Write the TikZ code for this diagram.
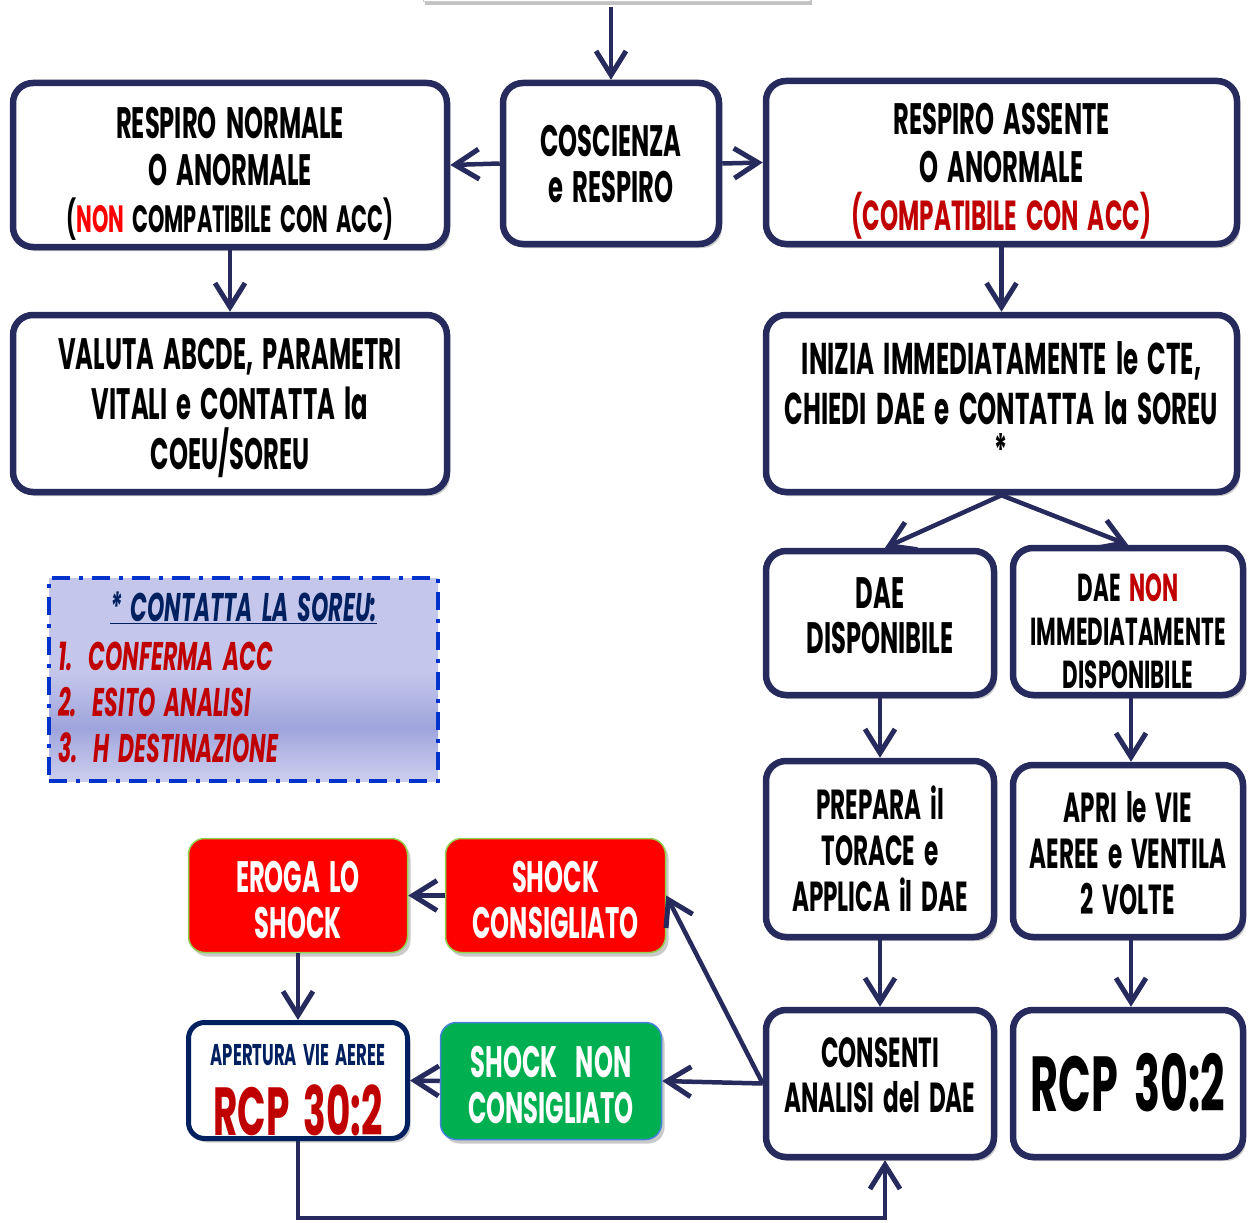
\documentclass[tikz,border=0pt]{standalone}
\usepackage{fontspec}
\usetikzlibrary{arrows.meta,shadows}
\newfontfamily\gf[FakeStretch=0.55,WordSpace=1.8]{Poppins}
\definecolor{navy}{RGB}{38,42,92}
\definecolor{dred}{RGB}{192,0,0}
\definecolor{bred}{RGB}{255,0,0}
\definecolor{ngreen}{RGB}{0,176,80}
\definecolor{lgreen}{RGB}{146,208,80}
\definecolor{gblue}{RGB}{70,130,220}
\definecolor{dnavy}{RGB}{0,32,96}
\definecolor{legT}{RGB}{196,199,235}
\definecolor{legM}{RGB}{178,182,228}
\definecolor{legD}{RGB}{158,164,220}
\definecolor{legL}{RGB}{204,206,238}
\definecolor{legblue}{RGB}{0,51,204}
\pgfdeclareverticalshading{legshade}{100bp}{color(0bp)=(legL); color(25bp)=(legL); color(33bp)=(legM); color(38bp)=(legD); color(45bp)=(legM); color(52bp)=(legT); color(100bp)=(legT)}
\tikzset{
  box/.style={draw=navy, line width=6.5pt, rounded corners=20pt, fill=white,
    drop shadow={shadow xshift=3pt, shadow yshift=-4pt, opacity=0.35, fill=black!60}},
  redbox/.style={draw=lgreen, line width=1.5pt, rounded corners=16pt, fill=bred,
    drop shadow={shadow xshift=3pt, shadow yshift=-4pt, opacity=0.35, fill=black!60}},
  greenbox/.style={draw=gblue, line width=1.5pt, rounded corners=16pt, fill=ngreen,
    drop shadow={shadow xshift=3pt, shadow yshift=-4pt, opacity=0.35, fill=black!60}},
  navybox/.style={draw=dnavy, line width=5pt, rounded corners=16pt, fill=white,
    drop shadow={shadow xshift=3pt, shadow yshift=-4pt, opacity=0.35, fill=black!60}},
  txt/.style={align=center, inner sep=0pt, font=\gf\bfseries},
  arr/.style={draw=navy, line width=4.5pt, -{Straight Barb[length=24pt,width=30pt,line width=5pt]}},
  conn/.style={draw=navy, line width=4.5pt},
}
\begin{document}
\begin{tikzpicture}[x=1pt,y=-1pt]
\useasboundingbox (0,0) rectangle (1248,1223);
% top partial box
\node[draw=gray!40, line width=1pt, fill=white, minimum width=387pt, minimum height=62pt, inner sep=0pt,
  drop shadow={shadow xshift=2pt, shadow yshift=-3pt, opacity=0.4, fill=black!60}] (top) at (616.5,-29) {};
% boxes
\node[box, minimum width=434pt, minimum height=164pt] (A) at (230,165) {};
\node[box, minimum width=216pt, minimum height=161pt] (B) at (611,163.5) {};
\node[box, minimum width=471pt, minimum height=163pt] (C) at (1001.5,162.5) {};
\node[box, minimum width=434pt, minimum height=177pt] (D) at (230,403.5) {};
\node[box, minimum width=471pt, minimum height=177pt] (E) at (1001.5,403.5) {};
\node[box, minimum width=228pt, minimum height=144pt] (F) at (880,623) {};
\node[box, minimum width=230pt, minimum height=147pt] (G) at (1128,621.5) {};
\node[box, minimum width=228pt, minimum height=176pt] (H) at (880,849) {};
\node[box, minimum width=230pt, minimum height=172pt] (I) at (1128,851) {};
\node[box, minimum width=228pt, minimum height=147pt] (J) at (880,1083.5) {};
\node[box, minimum width=230pt, minimum height=147pt] (K) at (1128,1083.5) {};
\node[redbox, minimum width=219pt, minimum height=114pt] (L) at (298,895.5) {};
\node[redbox, minimum width=220pt, minimum height=114pt] (M) at (555.5,895.5) {};
\node[navybox, minimum width=219pt, minimum height=116pt] (N) at (298,1080.5) {};
\node[greenbox, minimum width=221pt, minimum height=117pt] (O) at (551,1081) {};
\node[draw=legblue, line width=4pt, dash pattern=on 18pt off 9pt on 4pt off 9pt, shading=legshade,
  minimum width=389pt, minimum height=203pt, inner sep=0pt] (leg) at (243.5,679.5) {};
% texts
\node[txt, font=\gf\bfseries\fontsize{44}{47}\selectfont] (At) at (230,174)
  {RESPIRO NORMALE\\O ANORMALE\\{\fontsize{38}{47}\selectfont(\textcolor{bred}{NON} COMPATIBILE CON ACC)}};
\node[txt, font=\gf\bfseries\fontsize{44}{46}\selectfont] (Bt) at (611,164) {COSCIENZA\\e RESPIRO};
\node[txt, font=\gf\bfseries\fontsize{44}{48}\selectfont] (Ct) at (1001.5,171.5)
  {RESPIRO ASSENTE\\O ANORMALE\\{\color{dred}\fontsize{42}{48}\selectfont(COMPATIBILE CON ACC)}};
\node[txt, font=\gf\bfseries\fontsize{44}{50}\selectfont] (Dt) at (230,408)
  {VALUTA ABCDE, PARAMETRI\\VITALI e CONTATTA la\\COEU/SOREU};
\node[txt, font=\gf\bfseries\fontsize{44.5}{50}\selectfont] (Et) at (1001.5,404)
  {INIZIA IMMEDIATAMENTE le CTE,\\CHIEDI DAE e CONTATTA la SOREU\\[-8pt]*};
\node[txt, font=\gf\bfseries\fontsize{44}{45}\selectfont] (Ft) at (880,615.5) {DAE\\DISPONIBILE};
\node[txt, font=\gf\bfseries\fontsize{39}{43.5}\selectfont] (Gt) at (1128,631.5)
  {DAE \textcolor{dred}{NON}\\IMMEDIATAMENTE\\DISPONIBILE};
\node[txt, font=\gf\bfseries\fontsize{42}{46}\selectfont] (Ht) at (880,849) {PREPARA il\\TORACE e\\APPLICA il DAE};
\node[txt, font=\gf\bfseries\fontsize{42}{46}\selectfont] (It) at (1128,853) {APRI le VIE\\AEREE e VENTILA\\2 VOLTE};
\node[txt, font=\gf\bfseries\fontsize{42}{45}\selectfont] (Jt) at (880,1075.5) {CONSENTI\\ANALISI del DAE};
\node[txt, font=\gf\bfseries\fontsize{78}{78}\selectfont] (Kt) at (1128,1083) {RCP 30:2};
\node[txt, text=white, font=\gf\bfseries\fontsize{44}{46}\selectfont] (Lt) at (298,900) {EROGA LO\\SHOCK};
\node[txt, text=white, font=\gf\bfseries\fontsize{44}{46}\selectfont] (Mt) at (555.5,900) {SHOCK\\CONSIGLIATO};
\node[txt, text=dnavy, font=\gf\bfseries\fontsize{30}{30}\selectfont] (Nt1) at (298,1055) {APERTURA VIE AEREE};
\node[txt, text=dred, font=\gf\bfseries\fontsize{68}{68}\selectfont] (Nt2) at (298,1110) {RCP 30:2};
\node[txt, text=white, font=\gf\bfseries\fontsize{44}{46}\selectfont] (Ot) at (551,1085) {SHOCK\ \ NON\\CONSIGLIATO};
\node[txt, text=dnavy, font=\gf\bfseries\itshape\fontsize{40}{40}\selectfont] (legt) at (243.5,608)
  {\underline{* CONTATTA LA SOREU:}};
\node[txt, text=dred, anchor=west, font=\gf\bfseries\itshape\fontsize{40}{40}\selectfont] (leg1) at (58,656) {1.\hspace{16pt}CONFERMA ACC};
\node[txt, text=dred, anchor=west, font=\gf\bfseries\itshape\fontsize{40}{40}\selectfont] (leg2) at (58,702) {2.\hspace{16pt}ESITO ANALISI};
\node[txt, text=dred, anchor=west, font=\gf\bfseries\itshape\fontsize{40}{40}\selectfont] (leg3) at (58,748) {3.\hspace{16pt}H DESTINAZIONE};
% connectors
\draw[arr] (B.north |- top.south) ++(0,5) -- (B.north);
\draw[arr] (B.west) -- (A.east);
\draw[arr] (B.east) -- (C.west);
\draw[arr] (A.south) -- (D.north);
\draw[arr] (C.south) -- (E.north);
\draw[arr] (E.south) -- ([xshift=5pt]F.north);
\draw[arr] (E.south) -- (G.north);
\draw[arr] (F.south) -- (H.north);
\draw[arr] ([xshift=3pt]G.south) -- ([xshift=3pt]I.north);
\draw[arr] (H.south) -- (J.north);
\draw[arr] ([xshift=3pt]I.south) -- ([xshift=3pt]K.north);
\draw[arr] (J.west) -- (M.east);
\draw[arr] (J.west) -- (O.east);
\draw[arr] (M.west) -- (L.east);
\draw[arr] (L.south) -- (N.north);
\draw[arr] (O.west) -- (N.east);
\coordinate (r1) at (298,1218);
\coordinate (r2) at (885,1218);
\draw[arr, line join=miter] (N.south) -- (r1) -- (r2) -- ([xshift=5pt]J.south);
\end{tikzpicture}
\end{document}
